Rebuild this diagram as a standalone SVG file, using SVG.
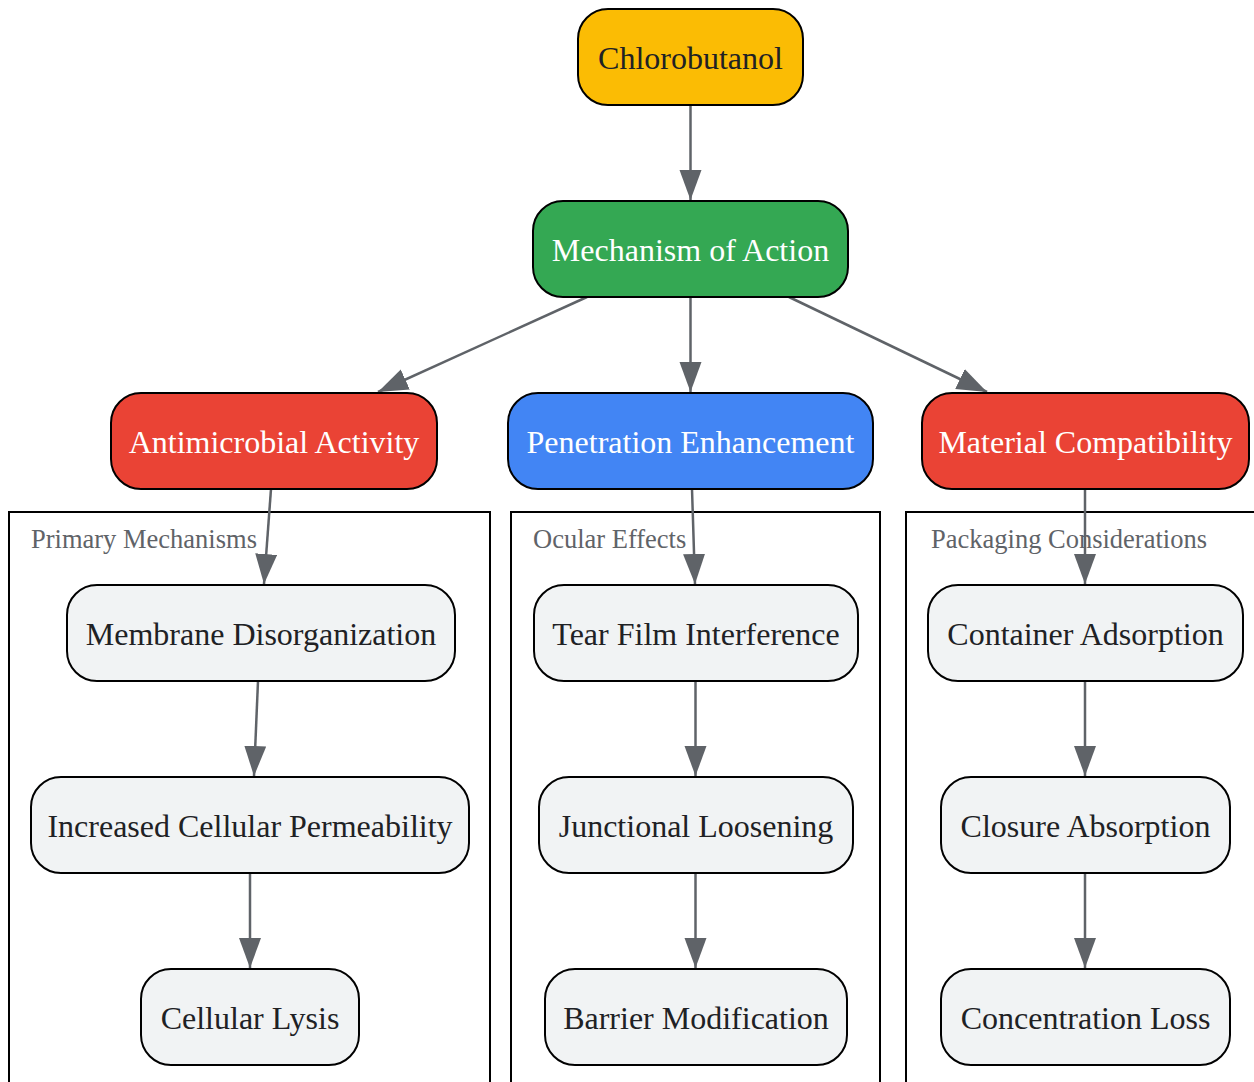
<svg xmlns="http://www.w3.org/2000/svg" width="1254" height="1082" viewBox="0 0 1254 1082">
<style>
.node rect{stroke:#000;stroke-width:2}
.node text{font-family:"Liberation Serif","Times New Roman",serif;font-size:32px;text-anchor:middle}
.dark text{fill:#202124}
.light text{fill:#ffffff}
.leaf rect{fill:#F1F3F4}
.cluster rect{fill:none;stroke:#000;stroke-width:2}
.cluster text{font-family:"Liberation Serif","Times New Roman",serif;font-size:26.5px;fill:#5f6368}
.edges line{stroke:#5f6368;stroke-width:2.5;marker-end:url(#arrow)}
</style>
<defs>
<marker id="arrow" markerUnits="userSpaceOnUse" markerWidth="32" markerHeight="24" refX="30" refY="11" orient="auto">
<path d="M0,0 L30,11 L0,22 z" fill="#5f6368"/>
</marker>
</defs>
<rect width="1254" height="1082" fill="#ffffff"/>
<g id="clusters">
<g id="cluster_primary" class="cluster"><rect x="9" y="512" width="481" height="600"/><text x="31" y="548">Primary Mechanisms</text></g>
<g id="cluster_ocular" class="cluster"><rect x="511" y="512" width="369" height="600"/><text x="533" y="548">Ocular Effects</text></g>
<g id="cluster_packaging" class="cluster"><rect x="906" y="512" width="400" height="600"/><text x="931" y="548">Packaging Considerations</text></g>
</g>
<g id="edges" class="edges">
<line x1="690.5" y1="105" x2="690.5" y2="200"/>
<line x1="587" y1="297" x2="378" y2="392"/>
<line x1="690.5" y1="297" x2="690.5" y2="392"/>
<line x1="789" y1="297" x2="987" y2="392"/>
<line x1="271" y1="489" x2="264" y2="584"/>
<line x1="258" y1="681" x2="254" y2="776"/>
<line x1="250" y1="873" x2="250" y2="968"/>
<line x1="692" y1="489" x2="695" y2="584"/>
<line x1="695.5" y1="681" x2="695.5" y2="776"/>
<line x1="695.5" y1="873" x2="695.5" y2="968"/>
<line x1="1085" y1="489" x2="1085" y2="584"/>
<line x1="1085" y1="681" x2="1085" y2="776"/>
<line x1="1085" y1="873" x2="1085" y2="968"/>
</g>
<g id="chlorobutanol" class="node dark"><rect x="578" y="9" width="225" height="96" rx="30" fill="#FBBC04"/><text x="690.5" y="68.5">Chlorobutanol</text></g>
<g id="mechanism" class="node light"><rect x="533" y="201" width="315" height="96" rx="30" fill="#34A853"/><text x="690.5" y="260.5">Mechanism of Action</text></g>
<g id="antimicrobial" class="node light"><rect x="111" y="393" width="326" height="96" rx="30" fill="#EA4335"/><text x="274" y="452.5">Antimicrobial Activity</text></g>
<g id="penetration" class="node light"><rect x="508" y="393" width="365" height="96" rx="30" fill="#4285F4"/><text x="690.5" y="452.5">Penetration Enhancement</text></g>
<g id="material" class="node light"><rect x="922" y="393" width="327" height="96" rx="30" fill="#EA4335"/><text x="1085.5" y="452.5">Material Compatibility</text></g>
<g id="membrane" class="node dark leaf"><rect x="67" y="585" width="388" height="96" rx="30"/><text x="261" y="644.5">Membrane Disorganization</text></g>
<g id="permeability" class="node dark leaf"><rect x="31" y="777" width="438" height="96" rx="30"/><text x="250" y="836.5">Increased Cellular Permeability</text></g>
<g id="lysis" class="node dark leaf"><rect x="141" y="969" width="218" height="96" rx="30"/><text x="250" y="1028.5">Cellular Lysis</text></g>
<g id="tearfilm" class="node dark leaf"><rect x="534" y="585" width="324" height="96" rx="30"/><text x="696" y="644.5">Tear Film Interference</text></g>
<g id="junctional" class="node dark leaf"><rect x="539" y="777" width="314" height="96" rx="30"/><text x="696" y="836.5">Junctional Loosening</text></g>
<g id="barrier" class="node dark leaf"><rect x="545" y="969" width="302" height="96" rx="30"/><text x="696" y="1028.5">Barrier Modification</text></g>
<g id="container" class="node dark leaf"><rect x="928" y="585" width="315" height="96" rx="30"/><text x="1085.5" y="644.5">Container Adsorption</text></g>
<g id="closure" class="node dark leaf"><rect x="941" y="777" width="289" height="96" rx="30"/><text x="1085.5" y="836.5">Closure Absorption</text></g>
<g id="concentration" class="node dark leaf"><rect x="941" y="969" width="289" height="96" rx="30"/><text x="1085.5" y="1028.5">Concentration Loss</text></g>
</svg>
